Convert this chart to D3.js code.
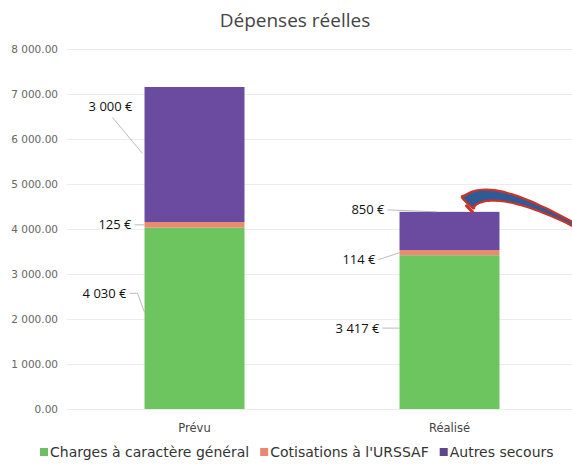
<!DOCTYPE html>
<html>
<head>
<meta charset="utf-8">
<script src="https://cdn.jsdelivr.net/npm/d3@7"></script>
<style>
  body { margin: 0; background: #fff; }
  text { font-family: "Open Sans", Lato, sans-serif; }
</style>
</head>
<body>
<div id="chart"></div>
<script>
// data
var categories = ["Prévu", "Réalisé"];
var seriesNames = ["Charges à caractère général", "Cotisations à l'URSSAF", "Autres secours"];
var charges = [4030, 3417];
var cotisations = [125, 114];
var autres = [3000, 850];
var valueLabels = [["4 030 €", "3 417 €"], ["125 €", "114 €"], ["3 000 €", "850 €"]];
var yTicks = [0, 1000, 2000, 3000, 4000, 5000, 6000, 7000, 8000];

var colors = ["#6cc55e", "#e98b6f", "#6a4b9f"];
var legendColors = ["#6cbf62", "#e88a70", "#5e4689"];

var width = 572, height = 472;
var margin = {top: 49, right: 0, bottom: 63, left: 67};

var svg = d3.select("#chart").append("svg")
    .attr("width", width)
    .attr("height", height);

// scales
var xScale = d3.scaleBand().domain(categories)
    .range([margin.left, 577])
    .paddingInner(0.608).paddingOuter(0.304);
var yScale = d3.scaleLinear().domain([0, 8000]).range([height - margin.bottom, margin.top]);

// title
svg.append("text")
    .attr("x", 295)
    .attr("y", 27)
    .style("text-anchor", "middle")
    .style("font-size", "19px")
    .style("fill", "#444")
    .text("Dépenses réelles");

// grid + y labels
var fmt = function(v) { return d3.format(",.2f")(v).replace(/,/g, " "); };
var yAxis = d3.axisLeft(yScale).tickValues(yTicks).tickFormat(fmt)
    .tickSize(-(width - margin.left)).tickPadding(9);
var gy = svg.append("g")
    .attr("transform", "translate(" + margin.left + ",0)")
    .call(yAxis);
gy.select(".domain").remove();
gy.selectAll(".tick line").attr("stroke", "#ececec");
gy.selectAll(".tick text")
    .style("font-family", "'DejaVu Sans', sans-serif")
    .style("font-size", "10.5px")
    .style("fill", "#666");

// stack
var rows = categories.map(function(c, i) {
    return {cat: c, a: charges[i], b: cotisations[i], c: autres[i]};
});
var stack = d3.stack().keys(["a", "b", "c"]);
var layers = stack(rows);

svg.selectAll(".layer")
    .data(layers)
    .enter().append("g")
    .attr("class", "layer")
    .attr("fill", function(d, i) { return colors[i]; })
    .selectAll("rect")
    .data(function(d) { return d; })
    .enter().append("rect")
    .attr("x", function(d) { return xScale(d.data.cat); })
    .attr("width", xScale.bandwidth())
    .attr("y", function(d) { return yScale(d[1]); })
    .attr("height", function(d) { return yScale(d[0]) - yScale(d[1]); });

// label placement relative to each segment: [gap from bar, dy of text, dy of leader end]
var labelPos = [
    [[18, -25, -6], [20, -4, -4]],
    [[13, 0, 0], [24, 7, 0]],
    [[12, -48, -1], [15, 0, 0]]
];
layers.forEach(function(layer, li) {
    layer.forEach(function(d, ci) {
        var bx = xScale(d.data.cat);
        var p = labelPos[li][ci];
        var segMid = (yScale(d[0]) + yScale(d[1])) / 2;
        if (li === 2 && ci === 1) segMid = yScale(d[1]) - 2;
        var tx = bx - p[0], ty = segMid + p[1], ly = segMid + p[2];
        svg.append("text")
            .attr("x", tx)
            .attr("y", ty)
            .attr("dy", "0.35em")
            .style("text-anchor", "end")
            .style("font-size", "13px")
            .style("fill", "#111")
            .text(valueLabels[li][ci]);
        var pts;
        if (li === 2 && ci === 0) pts = [[tx - 20, ty + 11], [bx - 2, ly]];
        else if (li === 2 && ci === 1) pts = [[tx + 3, ty], [bx + 37, ly + 2]];
        else if (li === 0 && ci === 0) pts = [[tx + 3, ty], [tx + 11, ty], [bx, ly]];
        else pts = [[tx + 3, ty], [bx, ly]];
        svg.append("path")
            .attr("d", d3.line()(pts))
            .attr("fill", "none")
            .attr("stroke", "#aaa")
            .attr("stroke-width", 0.8);
    });
});

// category labels
svg.selectAll(".cat")
    .data(categories)
    .enter().append("text")
    .attr("class", "cat")
    .attr("x", function(d) { return xScale(d) + xScale.bandwidth() / 2; })
    .attr("y", height - margin.bottom + 23)
    .style("text-anchor", "middle")
    .style("font-family", "'DejaVu Sans', sans-serif")
    .style("font-size", "11.5px")
    .style("fill", "#444")
    .text(function(d) { return d; });

// hand drawn arrow on the Réalisé bar (tapered curve)
var ax = xScale(categories[1]) + 68, ay = yScale(charges[1] + cotisations[1] + autres[1]);
var p0 = [ax, ay - 9], p1 = [ax + 22, ay - 32], p2 = [width + 4, ay + 14];
var left = [], right = [];
for (var t = 0; t <= 1.0001; t += 0.05) {
    var u = 1 - t;
    var x = u * u * p0[0] + 2 * u * t * p1[0] + t * t * p2[0];
    var y = u * u * p0[1] + 2 * u * t * p1[1] + t * t * p2[1];
    var dx = 2 * u * (p1[0] - p0[0]) + 2 * t * (p2[0] - p1[0]);
    var dy = 2 * u * (p1[1] - p0[1]) + 2 * t * (p2[1] - p1[1]);
    var len = Math.sqrt(dx * dx + dy * dy);
    var w = 6 * (1 - t) + 1.5;
    left.push([x - dy / len * w, y + dx / len * w]);
    right.unshift([x + dy / len * w, y - dx / len * w]);
}
svg.append("path")
    .attr("d", d3.line().curve(d3.curveCardinalClosed)(left.concat(right)))
    .attr("fill", "#2e5b95")
    .attr("stroke", "#c8342c")
    .attr("stroke-width", 2.2);
svg.append("path").attr("d", "M" + (ax - 1) + "," + (ay - 6) + " L" + (ax + 5) + "," + (ay))
    .attr("stroke", "#c8342c").attr("stroke-width", 3).attr("stroke-linecap", "round");

// legend, items laid out one after the other
var legend = svg.append("g").attr("transform", "translate(40,452)");
var lx = 0;
seriesNames.forEach(function(name, i) {
    var g = legend.append("g").attr("transform", "translate(" + lx + ",0)");
    g.append("rect")
        .attr("x", 0).attr("y", -4)
        .attr("width", 8).attr("height", 8)
        .attr("fill", legendColors[i]);
    var txt = g.append("text")
        .attr("x", 10)
        .attr("dy", "0.35em")
        .style("font-family", "'DejaVu Sans', sans-serif")
        .style("font-size", "14px")
        .style("fill", "#333")
        .text(name);
    lx += 10 + txt.node().getComputedTextLength() + 11;
});
</script>
</body>
</html>
